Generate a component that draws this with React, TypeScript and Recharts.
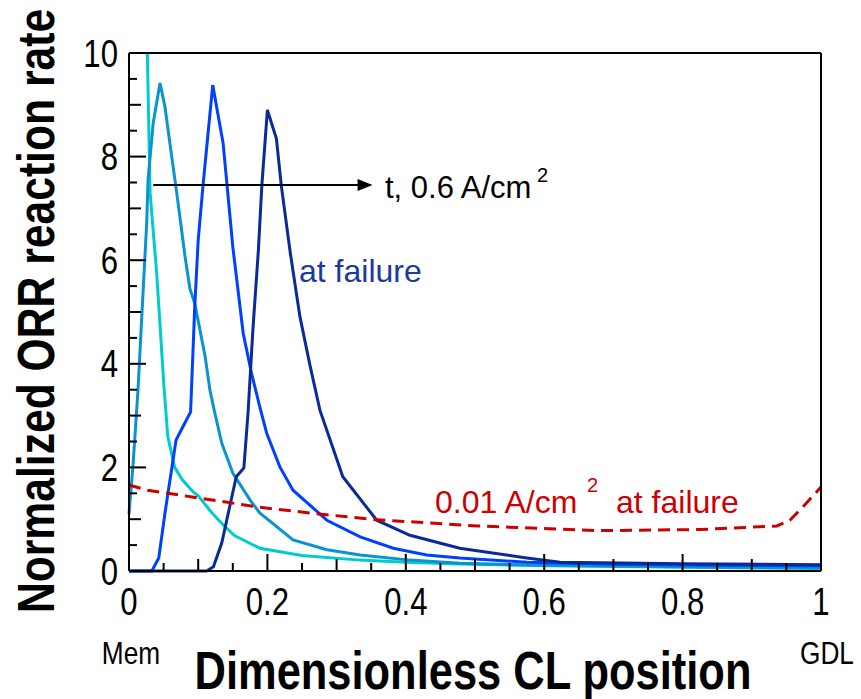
import React from 'react';
import { LineChart, Line, XAxis, YAxis, ReferenceLine, ReferenceDot } from 'recharts';

// ---- data ----
const cyanX = [0.0265, 0.0305, 0.040, 0.0506, 0.056, 0.066, 0.077, 0.0925, 0.10, 0.12, 0.139, 0.153, 0.189, 0.25, 0.334, 0.40, 0.478, 0.6, 0.8, 1.0];
const cyanY = [10, 7.3, 5.75, 3.55, 2.6, 2.0, 1.76, 1.53, 1.45, 1.12, 0.85, 0.68, 0.44, 0.30, 0.21, 0.17, 0.135, 0.1, 0.07, 0.05];

const tealX = [0, 0.006, 0.013, 0.018, 0.0256, 0.0275, 0.035, 0.0448, 0.052, 0.0617, 0.069, 0.081, 0.088, 0.095, 0.11, 0.117, 0.124, 0.134, 0.15, 0.175, 0.189, 0.237, 0.286, 0.334, 0.406, 0.478, 0.6, 0.8, 1.0];
const tealY = [1.1, 2.08, 3.49, 4.79, 6.72, 7.55, 8.65, 9.42, 8.96, 8.0, 7.3, 6.07, 5.45, 5.17, 4.14, 3.49, 3.05, 2.47, 1.89, 1.37, 1.12, 0.6, 0.41, 0.31, 0.21, 0.15, 0.11, 0.08, 0.06];

const blueX = [0, 0.033, 0.043, 0.052, 0.068, 0.089, 0.095, 0.1, 0.107, 0.121, 0.136, 0.15, 0.165, 0.177, 0.189, 0.199, 0.218, 0.237, 0.286, 0.334, 0.382, 0.43, 0.478, 0.575, 0.7, 0.85, 1.0];
const blueY = [0, 0, 0.25, 1.12, 2.53, 3.07, 5.1, 6.39, 7.45, 9.38, 8.26, 6.26, 4.59, 3.82, 3.17, 2.66, 2.01, 1.56, 0.98, 0.66, 0.44, 0.31, 0.25, 0.17, 0.13, 0.11, 0.1];

const navyX = [0, 0.112, 0.122, 0.134, 0.155, 0.166, 0.172, 0.179, 0.187, 0.192, 0.2, 0.213, 0.22, 0.233, 0.247, 0.262, 0.276, 0.309, 0.358, 0.406, 0.478, 0.575, 0.623, 0.8, 1.0];
const navyY = [0, 0, 0.08, 0.54, 1.82, 1.99, 3.05, 4.65, 6.2, 7.45, 8.9, 8.35, 7.45, 6.15, 4.91, 3.94, 3.1, 1.82, 0.98, 0.69, 0.44, 0.25, 0.17, 0.14, 0.12];

const redX = [0, 0.027, 0.056, 0.091, 0.14, 0.189, 0.262, 0.348, 0.43, 0.503, 0.6, 0.68, 0.825, 0.936, 0.955, 0.974, 1.0];
const redY = [1.66, 1.56, 1.5, 1.43, 1.33, 1.23, 1.12, 1.0, 0.93, 0.87, 0.82, 0.78, 0.8, 0.87, 0.98, 1.24, 1.62];

const xTicks = [0, 0.05, 0.1, 0.15, 0.2, 0.25, 0.3, 0.35, 0.4, 0.45, 0.5, 0.55, 0.6, 0.65, 0.7, 0.75, 0.8, 0.85, 0.9, 0.95, 1];
const xMajorValues = [0, 0.2, 0.4, 0.6, 0.8, 1];
const xMajorLabels = ['0', '0.2', '0.4', '0.6', '0.8', '1'];
const yTicks = [0, 0.5, 1, 1.5, 2, 2.5, 3, 3.5, 4, 4.5, 5, 5.5, 6, 6.5, 7, 7.5, 8, 8.5, 9, 9.5, 10];
const yMajorValues = [0, 2, 4, 6, 8, 10];
const yMajorLabels = ['0', '2', '4', '6', '8', '10'];
const X_MIN = 0, X_MAX = 1, Y_MIN = 0, Y_MAX = 10;

const arrowStart = { x: 0.035, y: 7.45 };
const arrowEnd = { x: 0.352, y: 7.45 };

const pts = (xs: number[], ys: number[]) => xs.map((x, i) => ({ x, y: ys[i] }));
const cyanData = pts(cyanX, cyanY);
const tealData = pts(tealX, tealY);
const blueData = pts(blueX, blueY);
const navyData = pts(navyX, navyY);
const redData = pts(redX, redY);

const W = 861, H = 699;
const FONT = '"Liberation Sans", Arial, sans-serif';

const near = (a: number, b: number) => Math.abs(a - b) < 1e-6;
const tickLen = (v: number, step: number) => {
  const i = Math.round(v / step);
  if (i % 4 === 0) return 17;
  if (i % 2 === 0) return 12;
  return 8;
};

// inward ticks (and labels) drawn at the positions the axes give
const BottomTick = (p: any) => {
  const { x, y, payload } = p;
  const v = payload.value;
  const len = tickLen(v, 0.05);
  const mi = xMajorValues.findIndex((m) => near(m, v));
  return (
    <g>
      <line x1={x} x2={x} y1={y} y2={y - len} stroke="#000" strokeWidth={2} />
      {mi >= 0 && (
        <text transform={`translate(${x},${y + 44}) scale(0.82,1)`} textAnchor="middle" fontSize={38} fontFamily={FONT} fill="#000">
          {xMajorLabels[mi]}
        </text>
      )}
    </g>
  );
};

const TopTick = (p: any) => {
  const { x, y, payload } = p;
  const len = tickLen(payload.value, 0.05);
  return <line x1={x} x2={x} y1={y} y2={y + len} stroke="#000" strokeWidth={2} />;
};

const LeftTick = (p: any) => {
  const { x, y, payload } = p;
  const v = payload.value;
  const len = tickLen(v, 0.5);
  const mi = yMajorValues.findIndex((m) => near(m, v));
  return (
    <g>
      <line x1={x} x2={x + len} y1={y} y2={y} stroke="#000" strokeWidth={2} />
      {mi >= 0 && (
        <text transform={`translate(${x - 11},${y + 13.5}) scale(0.82,1)`} textAnchor="end" fontSize={38} fontFamily={FONT} fill="#000">
          {yMajorLabels[mi]}
        </text>
      )}
    </g>
  );
};

const RightTick = (p: any) => {
  const { x, y, payload } = p;
  const len = tickLen(payload.value, 0.5);
  return <line x1={x} x2={x - len} y1={y} y2={y} stroke="#000" strokeWidth={2} />;
};

const ArrowHead = (p: any) => {
  const { cx, cy } = p;
  return <path d={`M${cx},${cy} L${cx - 15},${cy - 6} L${cx - 15},${cy + 6} Z`} fill="#000" />;
};

const axisStyle = { stroke: '#000', strokeWidth: 2 };
const ax = { xAxisId: 'bottom', yAxisId: 'left' } as const;

export default function App() {
  return (
    <div style={{ position: 'absolute', left: 0, top: 0, width: W, height: H, background: '#fff' }}>
      <LineChart
        width={W}
        height={H}
        margin={{ top: 43, right: 30, bottom: 68, left: 69 }}
        style={{ position: 'absolute', left: 0, top: 0 }}
      >
        <XAxis xAxisId="bottom" orientation="bottom" type="number" dataKey="x" domain={[X_MIN, X_MAX]} ticks={xTicks} interval={0}
          tick={BottomTick} tickLine={false} tickSize={0} tickMargin={0} axisLine={axisStyle} height={60} />
        <XAxis xAxisId="top" orientation="top" type="number" dataKey="x" domain={[X_MIN, X_MAX]} ticks={xTicks} interval={0}
          tick={TopTick} tickLine={false} tickSize={0} tickMargin={0} axisLine={axisStyle} height={10} />
        <YAxis yAxisId="left" orientation="left" type="number" dataKey="y" domain={[Y_MIN, Y_MAX]} ticks={yTicks} interval={0}
          tick={LeftTick} tickLine={false} tickSize={0} tickMargin={0} axisLine={axisStyle} width={60} />
        <YAxis yAxisId="right" orientation="right" type="number" dataKey="y" domain={[Y_MIN, Y_MAX]} ticks={yTicks} interval={0}
          tick={RightTick} tickLine={false} tickSize={0} tickMargin={0} axisLine={axisStyle} width={10} />

        <Line {...ax} data={cyanData} dataKey="y" type="linear" stroke="#00CCCC" strokeWidth={3} dot={false} isAnimationActive={false} />
        <Line {...ax} data={tealData} dataKey="y" type="linear" stroke="#0A93D1" strokeWidth={3} dot={false} isAnimationActive={false} />
        <Line {...ax} data={blueData} dataKey="y" type="linear" stroke="#0040FF" strokeWidth={3} dot={false} isAnimationActive={false} />
        <Line {...ax} data={navyData} dataKey="y" type="linear" stroke="#0A2A9A" strokeWidth={3} dot={false} isAnimationActive={false} />
        <Line {...ax} data={redData} dataKey="y" type="linear" stroke="#CC0000" strokeWidth={3} strokeDasharray="12 7" dot={false} isAnimationActive={false} />

        <ReferenceLine {...ax} segment={[arrowStart, { x: arrowEnd.x - 0.015, y: arrowEnd.y }]} stroke="#000" strokeWidth={2} />
        <ReferenceDot {...ax} x={arrowEnd.x} y={arrowEnd.y} shape={ArrowHead} />
      </LineChart>

      <svg width={W} height={H} style={{ position: 'absolute', left: 0, top: 0, pointerEvents: 'none' }}>
        <text transform="translate(54,311) rotate(-90) scale(0.82,1)" textAnchor="middle" fontSize={52} fontWeight="bold" fontFamily={FONT} fill="#000">
          Normalized ORR reaction rate
        </text>
        <text transform="translate(473,689) scale(0.82,1)" textAnchor="middle" fontSize={53} fontWeight="bold" fontFamily={FONT} fill="#000">
          Dimensionless CL position
        </text>
        <text transform="translate(131,664) scale(0.82,1)" textAnchor="middle" fontSize={32} fontFamily={FONT} fill="#000">Mem</text>
        <text transform="translate(827,664) scale(0.82,1)" textAnchor="middle" fontSize={32} fontFamily={FONT} fill="#000">GDL</text>

        <text x={385} y={198} fontSize={31} fontFamily={FONT} fill="#000">t, 0.6 A/cm</text>
        <text x={537} y={182} fontSize={20} fontFamily={FONT} fill="#000">2</text>

        <text x={299} y={282} fontSize={32} fontFamily={FONT} fill="#1A3A9E">at failure</text>

        <text x={435} y={513} fontSize={32} fontFamily={FONT} fill="#CC0000">0.01 A/cm</text>
        <text x={587} y={492} fontSize={20} fontFamily={FONT} fill="#CC0000">2</text>
        <text x={616} y={513} fontSize={32} fontFamily={FONT} fill="#CC0000">at failure</text>
      </svg>
    </div>
  );
}
